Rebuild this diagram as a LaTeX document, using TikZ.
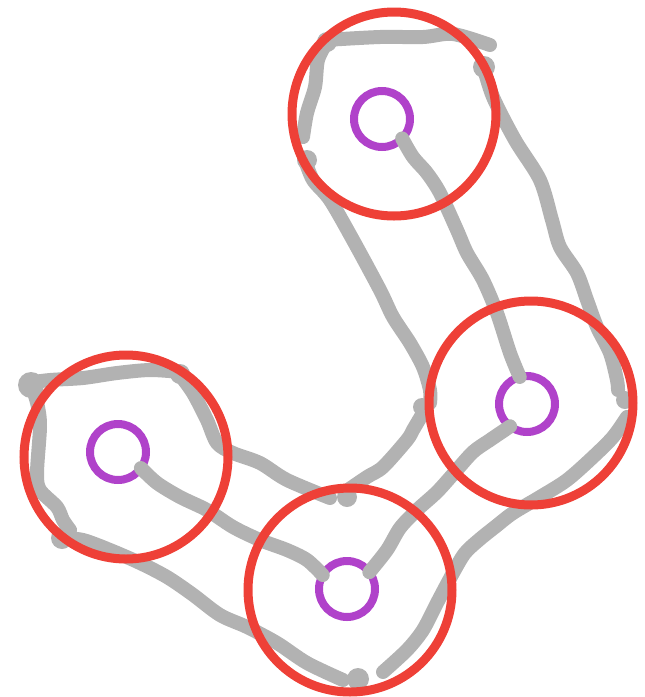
\documentclass[tikz,border=0pt]{standalone}
\definecolor{hullgray}{HTML}{B2B2B2}
\definecolor{ringred}{HTML}{EE4037}
\definecolor{dotpurple}{HTML}{B042CA}

\begin{document}
\begin{tikzpicture}[x=1pt, y=-1pt,
    stroke/.style={hullgray, line width=14pt, line cap=round, line join=round},
    dot/.style={circle, draw=dotpurple, line width=8pt, minimum size=56pt, inner sep=0pt, outer sep=0pt},
    ring/.style={circle, draw=ringred, line width=9pt, minimum size=204pt, inner sep=0pt, outer sep=0pt}]
    \useasboundingbox (0,0) rectangle (645,697);

    % purple centres
    \foreach \n/\cx/\cy in {a/382/119, b/527/404, c/118/452, d/347/589} {
        \node[dot] (p\n) at (\cx,\cy) {};
    }

    % hull strokes
    \draw[stroke] plot[smooth] coordinates {(325,40) (380,37) (423,37) (453,34) (490,45)};
    \draw[stroke] plot[smooth] coordinates {(327,42) (318,60) (315,87) (307,113) (303,137)};
    \draw[stroke] plot[smooth] coordinates {(305,160) (313,180) (330,200) (353,240) (380,290) (393,317) (410,343) (423,367) (430,390) (430,403)};
    \draw[stroke] plot[smooth] coordinates {(483,65) (493,97) (515,140) (540,180) (552,220) (560,247) (577,273) (587,300) (597,327) (610,353) (617,380) (618,390)};
    \draw[stroke] plot[smooth] coordinates {(627,417) (613,437) (593,457) (567,480) (540,497) (513,513) (495,527) (480,539) (465,553) (453,573) (437,603) (423,630) (407,650) (383,672)};
    \draw[stroke] plot[smooth] coordinates {(343,680) (307,663) (277,643) (247,627) (220,615) (192,594) (167,577) (140,563) (110,550) (83,540) (62,538)};
    \draw[stroke] plot[smooth] coordinates {(70,530) (63,520) (57,507) (40,490) (37,473) (40,427) (38,407) (33,390) (27,383)};
    \draw[stroke] plot[smooth] coordinates {(27,383) (50,380) (83,378) (117,373) (150,370) (180,372)};
    \draw[stroke] plot[smooth] coordinates {(180,375) (193,393) (207,420) (217,443) (233,453) (260,463) (287,480) (330,498)};
    \draw[stroke] plot[smooth] coordinates {(345,492) (367,477) (383,467) (407,440) (413,430) (423,413)};

    % blobs where the pen stopped
    \foreach \bx/\by/\br in {327/42/10, 307/160/10, 484/67/11, 422/407/9, 625/400/9, 358/679/11, 62/538/11, 31/385/13, 180/374/10, 347/497/10} {
        \fill[hullgray] (\bx,\by) circle (\br);
    }

    % links between centres
    \draw[stroke] plot[smooth] coordinates {(pa.-44) (413,157) (427,173) (440,193) (457,230) (467,253) (483,280) (497,313) (510,353) (pb.105)};
    \draw[stroke] plot[smooth] coordinates {(pb.-127) (490,440) (473,452) (455,472) (437,492) (417,510) (400,528) (387,550) (pd.37)};
    \draw[stroke] plot[smooth] coordinates {(pc.-35) (157,483) (180,497) (207,510) (233,527) (260,540) (287,550) (307,560) (pd.150)};

    % red rings
    \foreach \n/\cx/\cy in {a/394/114, b/531/403, c/126/457, d/350/590} {
        \node[ring] (r\n) at (\cx,\cy) {};
    }
\end{tikzpicture}
\end{document}
